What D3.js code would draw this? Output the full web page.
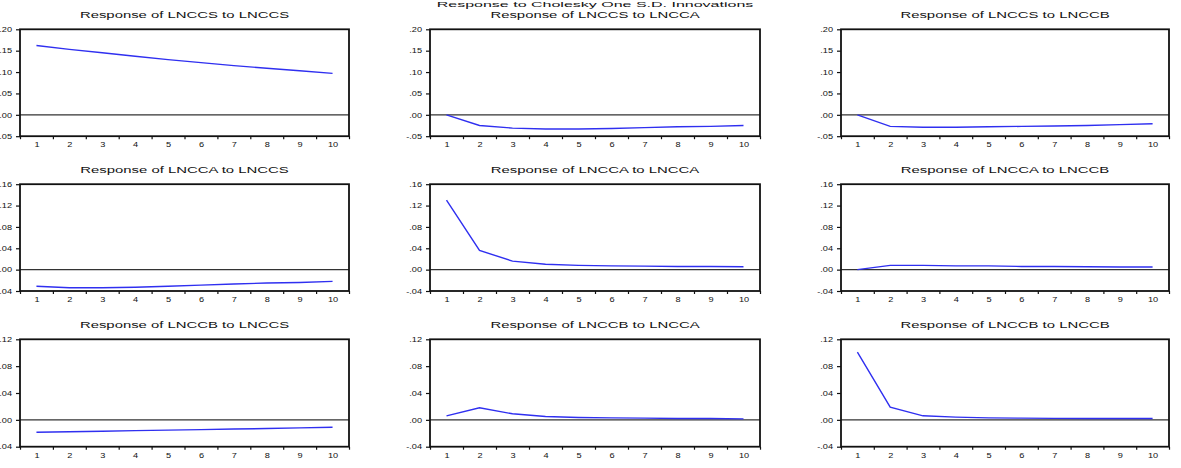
<!DOCTYPE html>
<html>
<head>
<meta charset="utf-8">
<script src="https://cdn.jsdelivr.net/npm/d3@7"></script>
<style>
  html, body { margin: 0; padding: 0; background: #fff; }
  svg { display: block; }
  text { font-family: "Liberation Sans", Arial, sans-serif; fill: #111; }
</style>
</head>
<body>
<svg id="chart" width="1181" height="468"></svg>
<script>
// ---------- data ----------
const mainTitle = "Response to Cholesky One S.D. Innovations";
const periods = [1, 2, 3, 4, 5, 6, 7, 8, 9, 10];
const variables = ["LNCCS", "LNCCA", "LNCCB"];

// rows: response of ...
const row1TickValues = [-0.05, 0.00, 0.05, 0.10, 0.15, 0.20];
const row1TickLabels = ["-.05", ".00", ".05", ".10", ".15", ".20"];
const row2TickValues = [-0.04, 0.00, 0.04, 0.08, 0.12, 0.16];
const row2TickLabels = ["-.04", ".00", ".04", ".08", ".12", ".16"];
const row3TickValues = [-0.04, 0.00, 0.04, 0.08, 0.12];
const row3TickLabels = ["-.04", ".00", ".04", ".08", ".12"];

const lnccsToLnccs = [0.162, 0.153, 0.145, 0.137, 0.129, 0.122, 0.115, 0.109, 0.103, 0.097];
const lnccsToLncca = [0.000, -0.025, -0.031, -0.033, -0.033, -0.032, -0.030, -0.028, -0.027, -0.025];
const lnccsToLnccb = [0.000, -0.027, -0.029, -0.029, -0.028, -0.027, -0.026, -0.025, -0.023, -0.021];

const lnccaToLnccs = [-0.031, -0.034, -0.034, -0.033, -0.031, -0.029, -0.027, -0.025, -0.024, -0.022];
const lnccaToLncca = [0.130, 0.036, 0.016, 0.010, 0.008, 0.007, 0.0066, 0.006, 0.0058, 0.0055];
const lnccaToLnccb = [0.000, 0.008, 0.008, 0.007, 0.007, 0.006, 0.006, 0.0055, 0.005, 0.005];

const lnccbToLnccs = [-0.0185, -0.0177, -0.0169, -0.0161, -0.0153, -0.0145, -0.0137, -0.0129, -0.0120, -0.0111];
const lnccbToLncca = [0.006, 0.018, 0.009, 0.005, 0.0035, 0.003, 0.0025, 0.002, 0.002, 0.0015];
const lnccbToLnccb = [0.101, 0.019, 0.006, 0.004, 0.003, 0.0025, 0.0022, 0.002, 0.002, 0.002];

// ---------- layout ----------
const svg = d3.select("#chart");
const cols = [{ x0: 20, x1: 349 }, { x0: 430, x1: 760 }, { x0: 841, x1: 1169 }];
const rows = [
  { y0: 29.3, y1: 136.2, ticks: row1TickValues, labels: row1TickLabels,
    series: [lnccsToLnccs, lnccsToLncca, lnccsToLnccb] },
  { y0: 184.2, y1: 291.0, ticks: row2TickValues, labels: row2TickLabels,
    series: [lnccaToLnccs, lnccaToLncca, lnccaToLnccb] },
  { y0: 339.3, y1: 446.7, ticks: row3TickValues, labels: row3TickLabels,
    series: [lnccbToLnccs, lnccbToLncca, lnccbToLnccb] }
];

function stretch(sel, factor) {
  sel.each(function () {
    const len = this.getComputedTextLength();
    d3.select(this).attr("textLength", len * factor).attr("lengthAdjust", "spacingAndGlyphs");
  });
}

// main title
svg.append("text")
  .attr("x", 595).attr("y", 7)
  .attr("text-anchor", "middle")
  .style("font-size", "8px")
  .attr("fill", "#222")
  .text(mainTitle)
  .call(stretch, 2.0);

rows.forEach((row, ri) => {
  cols.forEach((col, ci) => {
    const x = d3.scaleLinear().domain([0.5, 10.5]).range([col.x0, col.x1]);
    const y = d3.scaleLinear().domain([row.ticks[0], row.ticks[row.ticks.length - 1]]).range([row.y1, row.y0]);
    const g = svg.append("g");

    // panel title
    g.append("text")
      .attr("x", (col.x0 + col.x1) / 2).attr("y", row.y0 - 11)
      .attr("text-anchor", "middle")
      .style("font-size", "8.5px")
      .attr("fill", "#222")
      .text(`Response of ${variables[ri]} to ${variables[ci]}`)
      .call(stretch, 1.75);

    // zero line
    g.append("line")
      .attr("x1", col.x0).attr("x2", col.x1)
      .attr("y1", y(0)).attr("y2", y(0))
      .attr("stroke", "#333").attr("stroke-width", 1.2);

    // response line
    const line = d3.line().x((d, i) => x(periods[i])).y(d => y(d));
    g.append("path")
      .datum(row.series[ci])
      .attr("d", line)
      .attr("fill", "none")
      .attr("stroke", "#2f2ff0")
      .attr("stroke-width", 1.4);

    // left axis
    const ya = g.append("g")
      .attr("transform", `translate(${col.x0},0)`)
      .call(d3.axisLeft(y).tickValues(row.ticks)
        .tickFormat((d, i) => row.labels[i]).tickSize(4).tickPadding(4));
    ya.select(".domain").remove();
    ya.selectAll("line").attr("stroke", "#111").attr("stroke-width", 1.2);
    ya.selectAll("text").style("font-size", "6.8px").attr("fill", "#333").call(stretch, 1.35);

    // bottom tick marks at half periods
    const halfTicks = periods.map(p => p - 0.5).concat([10.5]);
    const xt = g.append("g")
      .attr("transform", `translate(0,${row.y1})`)
      .call(d3.axisBottom(x).tickValues(halfTicks).tickSize(3).tickFormat(""));
    xt.select(".domain").remove();
    xt.selectAll("line").attr("stroke", "#111").attr("stroke-width", 1.2);

    // bottom labels
    const xl = g.append("g")
      .attr("transform", `translate(0,${row.y1})`)
      .call(d3.axisBottom(x).tickValues(periods).tickSize(0).tickPadding(6));
    xl.select(".domain").remove();
    xl.selectAll("text").style("font-size", "6.8px").attr("fill", "#333").call(stretch, 1.35);

    // frame
    g.append("rect")
      .attr("x", col.x0).attr("y", row.y0)
      .attr("width", col.x1 - col.x0).attr("height", row.y1 - row.y0)
      .attr("fill", "none").attr("stroke", "#111").attr("stroke-width", 1.8);
  });
});
</script>
</body>
</html>
